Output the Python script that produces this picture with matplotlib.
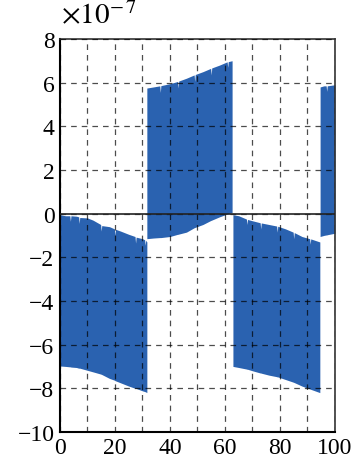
import numpy as np
import matplotlib.pyplot as plt

plt.rcParams['font.family'] = ['Liberation Serif', 'DejaVu Serif']
plt.rcParams['mathtext.fontset'] = 'stix'

# envelope of the oscillating signal, in units of 1e-7, one block per segment
seg1_x = [0, 2, 3.6, 3.8, 4, 6, 6.8, 7, 7.2, 10, 12, 14.8, 15, 15.2, 18, 19.8, 20, 20.2,
          22, 25, 27.3, 27.5, 27.7, 30, 30.8, 31, 31.2, 31.6]
seg1_top = [-0.05, -0.1, -0.1, -0.35, -0.1, -0.12, -0.15, -0.45, -0.18, -0.2, -0.3,
            -0.5, -0.8, -0.55, -0.6, -0.7, -1.0, -0.72, -0.8, -0.95, -1.05, -1.35, -1.08,
            -1.15, -1.2, -1.45, -1.22, -1.3]
seg1_bot = [-6.98, -7.0, -7.02, -7.02, -7.03, -7.05, -7.08, -7.08, -7.08, -7.18, -7.25,
            -7.35, -7.36, -7.37, -7.55, -7.63, -7.65, -7.66, -7.75, -7.9, -8.0, -8.0,
            -8.01, -8.12, -8.15, -8.16, -8.17, -8.2]

seg2_x = [31.6, 34, 36.3, 36.5, 36.7, 40, 42.8, 43, 43.2, 46, 48.8, 49, 49.2, 52, 54.8,
          55, 55.2, 58, 60.8, 61, 61.2, 62.6]
seg2_top = [5.75, 5.8, 5.85, 5.55, 5.86, 5.95, 6.05, 5.75, 6.07, 6.2, 6.35, 6.05, 6.37,
            6.5, 6.65, 6.35, 6.67, 6.8, 6.95, 6.7, 6.96, 7.0]
seg2_bot = [-1.15, -1.12, -1.1, -1.1, -1.1, -1.05, -0.95, -0.95, -0.94, -0.85, -0.65,
            -0.64, -0.63, -0.5, -0.32, -0.31, -0.3, -0.15, -0.02, -0.01, 0.0, 0.05]

seg3_x = [62.9, 65, 67.8, 68, 68.2, 70, 72.8, 73, 73.2, 76, 78.8, 79, 79.2, 82, 84.8,
          85, 85.2, 88, 90.8, 91, 91.2, 94.5]
seg3_top = [-0.05, -0.1, -0.25, -0.5, -0.27, -0.33, -0.42, -0.7, -0.43, -0.5, -0.57,
            -0.85, -0.58, -0.7, -0.85, -1.15, -0.87, -1.05, -1.15, -1.4, -1.16, -1.3]
seg3_bot = [-7.0, -7.05, -7.12, -7.13, -7.13, -7.2, -7.3, -7.3, -7.31, -7.4, -7.47,
            -7.48, -7.48, -7.6, -7.72, -7.73, -7.74, -7.9, -8.03, -8.04, -8.05, -8.2]

seg4_x = [94.6, 96, 96.8, 97, 97.2, 100]
seg4_top = [5.8, 5.85, 5.85, 5.6, 5.85, 5.9]
seg4_bot = [-1.05, -1.0, -0.98, -0.98, -0.97, -0.9]

segments = [(seg1_x, seg1_top, seg1_bot), (seg2_x, seg2_top, seg2_bot),
            (seg3_x, seg3_top, seg3_bot), (seg4_x, seg4_top, seg4_bot)]

xticks = np.arange(0, 101, 10)
yticks = np.arange(-10, 9, 2)

fig = plt.figure(figsize=(3.59, 4.64), dpi=100)
ax = fig.add_axes([0.167, 0.067, 0.766, 0.847])

for sx, top, bot in segments:
    ax.fill_between(sx, bot, top, color='#2a62b0', linewidth=0, zorder=2)

ax.set_xlim(0, 100)
ax.set_ylim(-10, 8)
ax.set_xticks(xticks)
ax.set_xticklabels([str(v) if v % 20 == 0 else '' for v in xticks])
ax.set_yticks(yticks)
ax.set_yticklabels([('\u2212' + str(-v)) if v < 0 else str(v) for v in yticks])
ax.tick_params(length=0, labelsize=17, pad=4)

ax.grid(True, color='black', linestyle=(0, (4.5, 4)), linewidth=0.9, alpha=0.7, zorder=3)
ax.set_axisbelow(False)
ax.axhline(0, color='#222222', linewidth=1.2, zorder=4)

for side in ['left', 'bottom']:
    ax.spines[side].set_linewidth(1.5)
for side in ['top', 'right']:
    ax.spines[side].set_linewidth(1.2)
    ax.spines[side].set_color('#333333')

ax.text(0.005, 1.025, r'$\times10^{-\,7}$', transform=ax.transAxes, fontsize=21,
        ha='left', va='bottom')

fig.savefig('out.png', dpi=100)
